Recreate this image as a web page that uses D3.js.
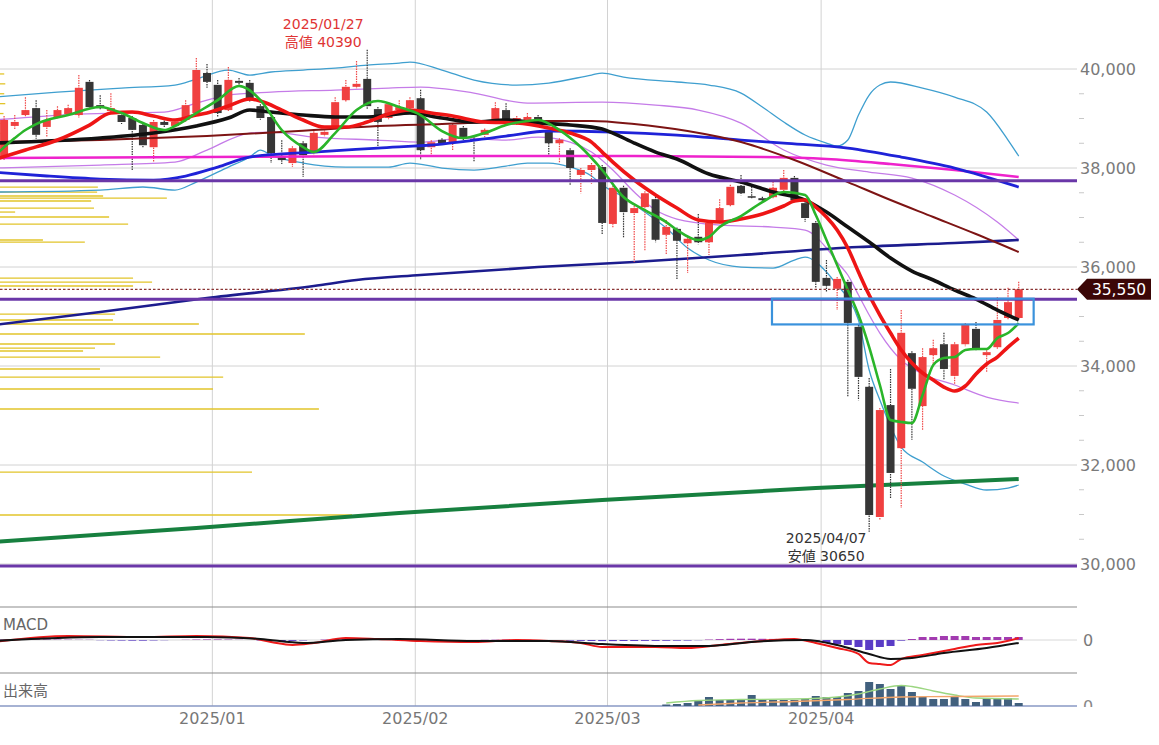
<!DOCTYPE html>
<html><head><meta charset="utf-8">
<script src="https://cdn.jsdelivr.net/npm/d3@7"></script>
<style>
body{margin:0;background:#fff}
svg{display:block}
text{font-family:"DejaVu Sans","Noto Sans CJK JP",sans-serif}
</style></head>
<body><svg id="c" width="1159" height="745"></svg>
<script>
// ---------------- DATA ----------------
const dates = [
 "2024-12-02","2024-12-03","2024-12-04","2024-12-05","2024-12-06","2024-12-09","2024-12-10","2024-12-11","2024-12-12","2024-12-13",
 "2024-12-16","2024-12-17","2024-12-18","2024-12-19","2024-12-20","2024-12-23","2024-12-24","2024-12-25","2024-12-26","2024-12-27","2024-12-30",
 "2025-01-06","2025-01-07","2025-01-08","2025-01-09","2025-01-10","2025-01-14","2025-01-15","2025-01-16","2025-01-17","2025-01-20",
 "2025-01-21","2025-01-22","2025-01-23","2025-01-24","2025-01-27","2025-01-28","2025-01-29","2025-01-30","2025-01-31",
 "2025-02-03","2025-02-04","2025-02-05","2025-02-06","2025-02-07","2025-02-10","2025-02-12","2025-02-13","2025-02-14","2025-02-17",
 "2025-02-18","2025-02-19","2025-02-20","2025-02-21","2025-02-25","2025-02-26","2025-02-27","2025-02-28",
 "2025-03-03","2025-03-04","2025-03-05","2025-03-06","2025-03-07","2025-03-10","2025-03-11","2025-03-12","2025-03-13","2025-03-14",
 "2025-03-17","2025-03-18","2025-03-19","2025-03-21","2025-03-24","2025-03-25","2025-03-26","2025-03-27","2025-03-28","2025-03-31",
 "2025-04-01","2025-04-02","2025-04-03","2025-04-04","2025-04-07","2025-04-08","2025-04-09","2025-04-10","2025-04-11","2025-04-14",
 "2025-04-15","2025-04-16","2025-04-17","2025-04-18","2025-04-21","2025-04-22","2025-04-23","2025-04-24","2025-04-25"];

const open  = [38400,38220,38850,39070,39210,38830,39030,39090,39070,39740, 39270,39150,39070,39010,38870,38420,38930,38850,38970,39110,39920,
 39680,39170,39760,39720,39250,39030,38220,38100,38500,38300, 38670,38810,39370,39640,39800,39190,39010,39170,39210,
 39410,38420,38570,38520,38810,38580,38670,38970,39170,38910, 38970,39030,38730,38500,38360,37860,37960,38020,
 36870,37600,37090,37210,37370,36650,36770,36480,36610,36500, 36910,37250,37640,37430,37390,37410,37560,37800,37290,36890,
 35780,35560,35700,34790,33580,30950,33210,32340,34260,33190, 34220,34440,33800,34440,34750,34220,34380,34970,34970];
const high  = [38600,39050,39070,39430,39370,39170,39250,39280,39880,39780, 39470,39510,39110,39050,38900,38970,39010,38970,39370,40220,40100,
 39780,40040,39820,39780,39290,39070,38560,38440,38540,38740, 38790,39430,39780,40160,40390,39230,39330,39370,39430,
 39580,38560,38600,38900,38850,38620,38800,39330,39310,39050, 39110,39070,38760,38600,38400,38000,38100,38060,
 37640,37640,37230,37530,37420,36950,36800,36600,37070,36920, 37370,37660,37860,37620,37420,37720,37960,37840,37330,36930,
 36140,35800,35740,34830,33760,33150,33940,35130,34300,34360, 34530,34670,34480,34870,34890,34320,35390,35580,35700];
const low   = [38150,38160,38770,39030,38590,38630,38990,39050,39010,39170, 39170,39130,38890,37960,38420,38120,38830,38810,38930,39070,39620,
 39030,39130,39640,39330,38970,38100,38080,38020,37820,38280, 38630,38780,39330,39600,39190,38420,38970,39130,39170,
 38160,38260,38450,38360,38560,38120,38620,38930,38870,38870, 38940,38930,38260,38100,37660,37490,37680,36650,
 36790,36590,36100,36340,36500,36240,35740,35880,36460,36240, 36870,37210,37450,37380,37310,37380,37520,37310,36910,35580,
 35490,35130,33390,33310,30650,30890,31330,31130,32510,32710, 34020,33720,33620,34400,34320,33880,34340,34930,34930];
const close = [38250,38970,38930,39170,38670,38970,39170,39210,39620,39230, 39210,39210,38930,38770,38460,38930,38870,38930,39270,39980,39740,
 39110,39780,39720,39370,39010,38300,38160,38400,38260,38710, 38730,39330,39640,39700,39250,38930,39290,39230,39370,
 38360,38520,38500,38870,38610,38550,38770,39210,38910,39010, 39030,38970,38500,38570,38000,37960,38060,36890,
 37600,37110,37190,37490,36550,36810,36530,36570,36500,36890, 37190,37620,37490,37410,37350,37600,37800,37350,36990,35700,
 35620,35760,34870,33780,30990,33110,31840,34670,33540,34180, 34360,33940,34440,34830,34360,34280,34930,35290,35550];

// moving averages / bands as [date index, price]
const ma5 = [[0,38221],[2,38605],[3,38767],[4,38888],[7,39070],[10,39231],[12,39110],[14,38908],[16,38767],[17,38848],[19,39110],
 [21,39373],[23,39656],[25,39373],[27,38767],[29,38423],[30,38322],[32,38706],[34,39171],[36,39353],[38,39231],[40,39070],
 [42,38747],[44,38605],[46,38706],[48,38868],[50,38949],[51,38969],[53,38767],[55,38423],[57,37959],[59,37413],[61,37151],
 [63,36908],[64,36747],[66,36545],[67,36606],[68,36807],[70,37030],[72,37312],[74,37514],[76,37454],[77,37050],[78,36545],
 [79,36040],[80,35535],[81,35030],[82,34383],[83,33616],[84,32909],[85,32870],[86,32848],[87,33414],[88,34020],[89,34161],
 [90,34181],[91,34323],[92,34343],[93,34343],[94,34565],[95,34666],[96,34868]];
const ma13 = [[0,38161],[3,38363],[6,38565],[9,38868],[11,39110],[13,39130],[15,39050],[17,38969],[19,39070],[20,39110],[22,39252],
 [24,39393],[25,39353],[27,39171],[29,38969],[31,38827],[33,38827],[35,38928],[37,39090],[39,39171],[41,39110],[43,39050],
 [46,38928],[49,38908],[52,38807],[54,38706],[56,38524],[57,38322],[58,38120],[60,37757],[62,37454],[64,37191],[66,36949],
 [68,36908],[70,36969],[72,37070],[74,37232],[75,37333],[76,37353],[77,37211],[78,37010],[79,36747],[80,36383],[81,35898],
 [82,35434],[83,35030],[84,34666],[85,34323],[86,34060],[87,33858],[88,33717],[89,33575],[90,33495],[91,33596],[92,33838],
 [93,34040],[94,34181],[95,34383],[96,34565]];
const ma25 = [[0,38504],[10,38605],[15,38706],[19,38848],[22,39009],[24,39171],[26,39130],[29,39070],[32,39029],[35,39029],
 [37,39070],[39,39110],[42,39009],[45,38928],[48,38969],[51,38908],[54,38868],[57,38787],[58,38706],[60,38504],[62,38322],
 [64,38181],[67,37878],[70,37716],[73,37514],[76,37353],[78,37110],[80,36807],[82,36504],[84,36181],[86,35918],[88,35737],
 [90,35535],[92,35353],[94,35131],[96,34929]];
const ma75 = [[0,38524],[10,38565],[20,38646],[30,38767],[36,38848],[42,38888],[50,38949],[56,38949],[60,38888],[65,38747],
 [70,38524],[75,38161],[80,37716],[84,37353],[88,37010],[92,36666],[96,36302]];
const ma100 = [[0,37918],[5,37838],[10,37777],[15,37757],[18,37838],[21,38019],[24,38221],[30,38322],[36,38403],[42,38484],
 [48,38646],[52,38747],[58,38726],[64,38666],[70,38565],[74,38504],[80,38403],[85,38221],[90,37999],[96,37615]];
const ma200 = [[0,38201],[20,38221],[40,38242],[60,38242],[72,38221],[78,38181],[84,38080],[90,37959],[96,37817]];
const bbUp2 = [[0,39433],[6,39534],[12,39615],[17,39676],[19,39797],[22,39979],[24,39878],[26,39939],[29,39979],[32,40019],
 [35,40080],[38,40120],[39,40140],[42,39979],[45,39777],[49,39676],[52,39716],[56,39878],[57,39918],[59,39838],[64,39737],
 [67,39676],[70,39514],[72,39232],[74,38928],[76,38666],[78,38504],[79,38444],[80,38565],[81,39070],[82,39474],[83,39676],
 [84,39737],[87,39616],[90,39433],[93,39130],[95,38565],[96,38242]];
const bbUp1 = [[0,38969],[8,39090],[16,39130],[19,39312],[22,39474],[26,39534],[32,39575],[37,39615],[40,39635],[45,39514],
 [50,39312],[57,39332],[62,39272],[66,39171],[70,38908],[74,38363],[78,38060],[82,37918],[86,37797],[90,37454],[94,36908],[96,36545]];
const bbLo1 = [[0,37999],[10,38060],[17,38120],[20,38363],[24,38706],[26,38726],[30,38625],[36,38565],[40,38524],[44,38605],
 [48,38565],[51,38625],[54,38524],[56,38322],[58,37959],[60,37514],[62,37151],[64,36969],[68,36848],[73,36807],[76,36747],
 [78,36383],[79,36100],[80,35838],[81,35434],[82,35030],[83,34666],[85,34121],[87,33838],[90,33616],[93,33373],[96,33252]];
const bbLo2 = [[0,37514],[10,37555],[14,37616],[17,37555],[19,37716],[22,38019],[24,38221],[25,38363],[26,38262],[29,38100],
 [33,38019],[37,38019],[39,38100],[42,37999],[45,37959],[48,38040],[50,38100],[52,38100],[54,38019],[56,37838],[57,37656],
 [59,37413],[61,37110],[63,36787],[65,36383],[67,36141],[70,35999],[73,35979],[75,36141],[76,36201],[78,35898],[79,35636],
 [80,35373],[81,34929],[82,33919],[83,33313],[85,32363],[87,32060],[89,31778],[91,31616],[93,31495],[95,31535],[96,31596]];
const longNavy = [[0,34828],[10,35090],[20,35373],[30,35616],[34,35737],[40,35838],[51,35999],[60,36100],[70,36242],[81,36403],[90,36484],[96,36545]];
const longGreen = [[0,30444],[19,30727],[38,31030],[57,31293],[77,31535],[96,31717]];

const hLevels = [37740, 35350, 29960];
const lastPrice = 35550;
const boxRange = {from: 72.9, to: 97.4, top: 35360, bottom: 34840};

// volume-by-price profile: price level, relative volume (% of max)
const vpPrice = [39900,39700,39500,39300,39100,38900,38700,
 37615,37514,37434,37393,37333,37191,37110,37010,36868,36545,36504,35777,35696,35616,35050,34929,34848,34646,34444,34363,34303,34181,33939,33777,33535,33131,31858,30990];
const vpVol   = [1.2,1.5,1.2,1.5,1.0,1.2,1.0,
 27.8,27.6,29.3,47.4,25.9,26.7,4.3,31.0,36.4,12.2,24.1,37.8,43.2,37.8,32.7,32.1,56.5,86.6,32.7,27.0,23.6,45.5,28.4,63.4,60.5,90.6,71.6,100];

// MACD
const macdLine = [[0,-91],[7,182],[14,136],[19,182],[24,91],[26,-91],[28,-227],[30,-136],[33,91],[36,45],[40,-45],[45,-91],[49,0],
 [52,-45],[55,-136],[57,-318],[62,-318],[65,-364],[68,-227],[72,-45],[75,45],[77,-136],[79,-364],[81,-636],[82,-1045],[83,-1091],
 [84,-1136],[85,-864],[87,-682],[90,-409],[92,-227],[94,-136],[96,91]];
const signalLine = [[0,-45],[10,136],[20,136],[25,45],[29,-136],[33,0],[38,45],[45,-45],[52,-45],[57,-182],[63,-273],[67,-273],
 [71,-91],[76,0],[79,-227],[82,-636],[84,-864],[86,-818],[89,-591],[93,-364],[96,-136]];
const macdHist = [20,20,25,30,30,25,20,15,10,10, -10,-20,-25,-30,-30,-20,-10,0,10,20, 25,25,20,10,0,-20,-40,-50,-40,-20,
 0,20,40,45,40,20,10,0,-10,-15, -30,-35,-30,-20,-10,0,10,15,20,15, 10,0,-10,-20,-30,-40,-45,-50,-50,-45,
 -45,-40,-40,-35,-30,-25,-10,20,40,55, 60,60,55,50,45,40,20,-40,-136,-182, -227,-318,-455,-318,-273,-30,45,136,136,182,
 182,182,136,136,136,136,136];

// Volume (only the last sessions carry data)
const volStart = 63;
const volume = [15,20,30,60,90,60,60,60,110,60,60,60,60,70,100,90,90,130,150,240,220,170,200,140,90,70,70,90,70,40,70,80,80,30];
const volMA5  = [[63,30],[66,55],[70,65],[75,70],[79,90],[81,120],[83,170],[85,205],[86,195],[88,150],[90,110],[92,80],[96,70]];
const volMA25 = [[66,10],[70,30],[75,45],[80,65],[85,90],[90,95],[96,100]];

const priceTicks = [30000,32000,34000,36000,38000,40000];
const monthLabels = ["2025/01","2025/02","2025/03","2025/04"];
const monthFirstIdx = [21,40,58,78];

// ---------------- DRAW ----------------
const svg = d3.select("#c");
const R = 1077;
const y  = d3.scaleLinear().domain([30000,40000]).range([564,69]);
const xi = d3.scaleLinear().domain([0,96]).range([-6.6,1018.7]);
const yM = d3.scaleLinear().domain([-1500,1500]).range([673,607]);
const yV = d3.scaleLinear().domain([0,330]).range([706,673]);
const vpX = d3.scaleLinear().domain([0,100]).range([0,352]);

const defs = svg.append("defs");
defs.append("clipPath").attr("id","cm").append("rect").attr("x",0).attr("y",0).attr("width",R).attr("height",607);
defs.append("clipPath").attr("id","cmacd").append("rect").attr("x",0).attr("y",607).attr("width",R).attr("height",66);
defs.append("clipPath").attr("id","cvol").append("rect").attr("x",0).attr("y",673).attr("width",R).attr("height",33);
defs.append("clipPath").attr("id","cvlab").append("rect").attr("x",1070).attr("y",673).attr("width",80).attr("height",34);

// grid
svg.append("g").selectAll("line").data(priceTicks).join("line")
  .attr("x1",0).attr("x2",R).attr("y1",d=>y(d)).attr("y2",d=>y(d))
  .attr("stroke","#d2d2d2").attr("stroke-width",1);
svg.append("g").selectAll("line").data(monthFirstIdx).join("line")
  .attr("x1",d=>xi(d-0.5)).attr("x2",d=>xi(d-0.5)).attr("y1",0).attr("y2",706)
  .attr("stroke","#d2d2d2").attr("stroke-width",1);

// right axis
const axisG = svg.append("g").attr("transform",`translate(${R+2},0)`)
  .call(d3.axisRight(y).tickValues(priceTicks).tickFormat(d3.format(",")).tickSize(0).tickPadding(1));
axisG.select(".domain").remove();
axisG.selectAll("text").attr("fill","#7a7a7a").attr("font-size",16).attr("font-family","DejaVu Sans");
const minor = d3.range(30500,40000,500).filter(v=>v%2000!==0);
svg.append("g").selectAll("line").data(minor).join("line")
  .attr("x1",R+2).attr("x2",R+7).attr("y1",d=>y(d)).attr("y2",d=>y(d)).attr("stroke","#c8c8c8");

const main = svg.append("g").attr("clip-path","url(#cm)");

// volume profile
main.append("g").selectAll("line").data(vpPrice).join("line")
  .attr("x1",0).attr("x2",(d,i)=>vpX(vpVol[i])).attr("y1",d=>y(d)).attr("y2",d=>y(d))
  .attr("stroke","#e2c42a").attr("stroke-width",1.3);

const line = d3.line().x(d=>xi(d[0])).y(d=>y(d[1])).curve(d3.curveMonotoneX);
function path(g,data,color,w){ g.append("path").attr("d",line(data)).attr("fill","none").attr("stroke",color).attr("stroke-width",w).attr("stroke-linejoin","round"); }

// bands and long lines
path(main,bbUp2,"#3f9fcf",1.3);
path(main,bbLo2,"#3f9fcf",1.3);
path(main,bbUp1,"#c57ce8",1.3);
path(main,bbLo1,"#c57ce8",1.3);
path(main,longNavy,"#1c1c8e",2.6);
path(main,longGreen,"#17803f",4);

// candles
const cg = main.append("g");
const idx = d3.range(dates.length);
cg.selectAll("line").data(idx).join("line")
  .attr("x1",i=>xi(i)).attr("x2",i=>xi(i)).attr("y1",i=>y(high[i])).attr("y2",i=>y(low[i]))
  .attr("stroke",i=>close[i]>=open[i]?"#f04848":"#333").attr("stroke-width",1.2).attr("stroke-dasharray","1.5,1");
cg.selectAll("rect").data(idx).join("rect")
  .attr("x",i=>xi(i)-4).attr("width",8)
  .attr("y",i=>y(Math.max(open[i],close[i])))
  .attr("height",i=>Math.max(1.5,Math.abs(y(open[i])-y(close[i]))))
  .attr("fill",i=>close[i]>=open[i]?"#f04040":"#363636");

// moving averages
path(main,ma200,"#ee22cc",2.6);
path(main,ma100,"#1f22d8",2.8);
path(main,ma75,"#7d1414",2);
path(main,ma25,"#111",3.6);
path(main,ma13,"#ee1515",3.6);
path(main,ma5,"#2ab52a",2.6);

// horizontal levels
main.append("g").selectAll("line").data(hLevels).join("line")
  .attr("x1",0).attr("x2",R).attr("y1",d=>y(d)).attr("y2",d=>y(d))
  .attr("stroke","#6a37a8").attr("stroke-width",3);
main.append("line").attr("x1",0).attr("x2",R).attr("y1",y(lastPrice)).attr("y2",y(lastPrice))
  .attr("stroke","#8b3535").attr("stroke-width",1.3).attr("stroke-dasharray","2.5,2");

// box
main.append("rect").attr("x",xi(boxRange.from)).attr("y",y(boxRange.top))
  .attr("width",xi(boxRange.to)-xi(boxRange.from)).attr("height",y(boxRange.bottom)-y(boxRange.top))
  .attr("fill","none").attr("stroke","#3a92dc").attr("stroke-width",2.2);

// annotations
const hiI = 35, loI = 82;
svg.append("text").attr("x",xi(hiI)-44).attr("y",29).attr("text-anchor","middle").attr("fill","#e03434").attr("font-size",14).text("2025/01/27");
svg.append("text").attr("x",xi(hiI)-44).attr("y",47).attr("text-anchor","middle").attr("fill","#e03434").attr("font-size",14).text("高値 " + high[hiI]);
svg.append("text").attr("x",xi(loI)-43).attr("y",543).attr("text-anchor","middle").attr("fill","#333").attr("font-size",14).text("2025/04/07");
svg.append("text").attr("x",xi(loI)-43).attr("y",561).attr("text-anchor","middle").attr("fill","#333").attr("font-size",14).text("安値 " + low[loI]);

// price tag
const ty = y(lastPrice);
svg.append("path").attr("d",`M${R},${ty} L${R+10},${ty-10.5} L${R+74},${ty-10.5} L${R+74},${ty+10.5} L${R+10},${ty+10.5} Z`).attr("fill","#3b0606");
svg.append("text").attr("x",R+42).attr("y",ty+5.5).attr("text-anchor","middle").attr("fill","#fff").attr("font-size",15.5).text(d3.format(",")(lastPrice));

// panel separators
[607,673].forEach(v=>svg.append("line").attr("x1",0).attr("x2",R).attr("y1",v).attr("y2",v).attr("stroke","#8c8c8c").attr("stroke-width",1.2));
svg.append("line").attr("x1",0).attr("x2",R).attr("y1",706).attr("y2",706).attr("stroke","#8898c4").attr("stroke-width",1.5);

// MACD panel
const mg = svg.append("g").attr("clip-path","url(#cmacd)");
mg.append("line").attr("x1",0).attr("x2",R).attr("y1",yM(0)).attr("y2",yM(0)).attr("stroke","#d8d8d8");
mg.selectAll("rect").data(idx).join("rect")
  .attr("x",i=>xi(i)-4).attr("width",8)
  .attr("y",i=>Math.min(yM(0),yM(macdHist[i])))
  .attr("height",i=>Math.abs(yM(macdHist[i])-yM(0)))
  .attr("fill",i=>macdHist[i]>=0?"#a23bb0":"#5a3cc6");
const lineM = d3.line().x(d=>xi(d[0])).y(d=>yM(d[1])).curve(d3.curveMonotoneX);
mg.append("path").attr("d",lineM(macdLine)).attr("fill","none").attr("stroke","#ee1a1a").attr("stroke-width",2);
mg.append("path").attr("d",lineM(signalLine)).attr("fill","none").attr("stroke","#111").attr("stroke-width",2);
svg.append("text").attr("x",3).attr("y",630).attr("fill","#666").attr("font-size",15).text("MACD");
svg.append("text").attr("x",R+6).attr("y",yM(0)+6).attr("fill","#7a7a7a").attr("font-size",16).text("0");

// volume panel
const vg = svg.append("g").attr("clip-path","url(#cvol)");
vg.selectAll("rect").data(volume).join("rect")
  .attr("x",(d,k)=>xi(volStart+k)-4).attr("width",8)
  .attr("y",d=>yV(d)).attr("height",d=>yV(0)-yV(d)).attr("fill","#41607e");
const lineV = d3.line().x(d=>xi(d[0])).y(d=>yV(d[1])).curve(d3.curveMonotoneX);
vg.append("path").attr("d",lineV(volMA5)).attr("fill","none").attr("stroke","#9bd680").attr("stroke-width",1.3);
vg.append("path").attr("d",lineV(volMA25)).attr("fill","none").attr("stroke","#f3a56a").attr("stroke-width",1.3);
svg.append("text").attr("x",3).attr("y",696).attr("fill","#666").attr("font-size",15).text("出来高");
svg.append("g").attr("clip-path","url(#cvlab)").append("text").attr("x",R+6).attr("y",yV(0)+6).attr("fill","#888").attr("font-size",16).text("0");

// month labels
svg.append("g").selectAll("text").data(monthLabels).join("text")
  .attr("x",(d,k)=>xi(monthFirstIdx[k]-0.5)).attr("y",724).attr("text-anchor","middle")
  .attr("fill","#777").attr("font-size",16).text(d=>d);
</script>
</body></html>
